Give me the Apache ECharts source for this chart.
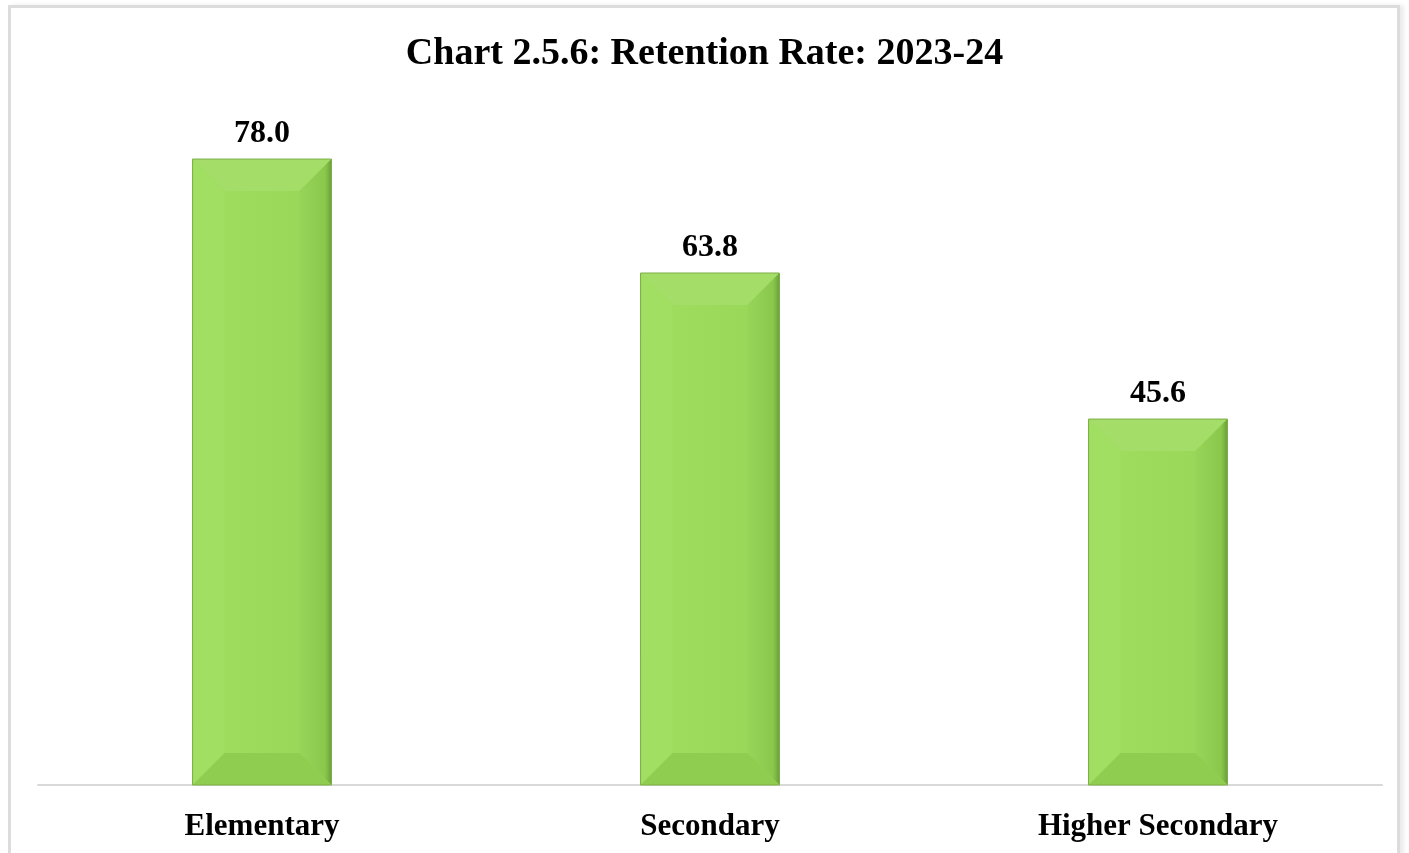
<!DOCTYPE html>
<html>
<head>
<meta charset="utf-8">
<script src="https://cdn.jsdelivr.net/npm/echarts@6/dist/echarts.min.js"></script>
<style>
  html, body { margin: 0; padding: 0; background: #fff; }
  #chart { position: absolute; left: 0; top: 0; width: 1409px; height: 853px; }
  #frame {
    position: absolute; left: 8px; top: 5px; width: 1386px; height: 850px;
    border: 3px solid #dcdcdc; border-bottom: none; pointer-events: none;
    box-shadow: 4px 0 4px rgba(0,0,0,0.08);
  }
</style>
</head>
<body>
<div id="chart"></div>
<div id="frame"></div>
<script>
const categories = ["Elementary", "Secondary", "Higher Secondary"];
const retention = [78.0, 63.8, 45.6];

const chart = echarts.init(document.getElementById("chart"));

// bar with bevelled edges, sized through the axis scales
const renderBevelBar = (params, api) => {
  const top = api.coord([api.value(0), api.value(1)]);
  const base = api.coord([api.value(0), 0]);
  const w = api.size([1, 0])[0] * 0.31;
  const x0 = top[0] - w / 2;
  const x1 = top[0] + w / 2;
  const y0 = top[1];
  const y1 = base[1];
  const b = Math.min(32, (y1 - y0) / 2);
  return {
    type: "group",
    children: [
      {
        type: "rect",
        shape: { x: x0, y: y0, width: w, height: y1 - y0 },
        style: {
          fill: new echarts.graphic.LinearGradient(0, 0, 1, 0, [
            { offset: 0, color: "#9fde5f" },
            { offset: 1, color: "#97d657" },
          ]),
        },
      },
      {
        type: "polygon",
        shape: { points: [[x0, y0], [x1, y0], [x1 - b, y0 + b], [x0 + b, y0 + b]] },
        style: { fill: "#a4de68" },
      },
      {
        type: "polygon",
        shape: { points: [[x0, y0], [x0 + b, y0 + b], [x0 + b, y1 - b], [x0, y1]] },
        style: { fill: "#a0df62" },
      },
      {
        type: "polygon",
        shape: { points: [[x1, y0], [x1, y1], [x1 - b, y1 - b], [x1 - b, y0 + b]] },
        style: {
          fill: new echarts.graphic.LinearGradient(0, 0, 1, 0, [
            { offset: 0, color: "#96d558" },
            { offset: 0.8, color: "#8ac84d" },
            { offset: 1, color: "#6c9f3a" },
          ]),
        },
      },
      {
        type: "polygon",
        shape: { points: [[x0, y1], [x0 + b, y1 - b], [x1 - b, y1 - b], [x1, y1]] },
        style: { fill: "#8fcd50" },
      },
      {
        type: "rect",
        shape: { x: x0, y: y0, width: w, height: y1 - y0 },
        style: { fill: "none", stroke: "#7cae45", lineWidth: 1 },
      },
      {
        type: "text",
        x: top[0],
        y: y0 - 9,
        style: {
          text: api.value(1).toFixed(1),
          align: "center",
          verticalAlign: "bottom",
          fill: "#000",
          fontFamily: "Liberation Serif",
          fontSize: 32,
          fontWeight: "bold",
        },
      },
    ],
  };
};

const option = {
  animation: false,
  title: {
    text: "Chart 2.5.6: Retention Rate: 2023-24",
    left: "center",
    top: 30,
    textStyle: {
      fontFamily: "Liberation Serif",
      fontSize: 38,
      fontWeight: "bold",
      color: "#000",
    },
  },
  grid: {
    left: 38,
    right: 27,
    top: 143,
    bottom: 68,
    containLabel: false,
  },
  xAxis: {
    type: "category",
    data: categories,
    axisLine: { lineStyle: { color: "#d9d9d9", width: 2 } },
    axisTick: { show: false },
    axisLabel: {
      margin: 26,
      color: "#000",
      fontFamily: "Liberation Serif",
      fontSize: 31,
      fontWeight: "bold",
    },
  },
  yAxis: {
    type: "value",
    min: 0,
    max: 80,
    show: false,
    splitLine: { show: false },
  },
  series: [
    {
      type: "custom",
      renderItem: renderBevelBar,
      encode: { x: 0, y: 1 },
      data: retention.map((v, i) => [i, v]),
    },
  ],
};

chart.setOption(option);
</script>
</body>
</html>
